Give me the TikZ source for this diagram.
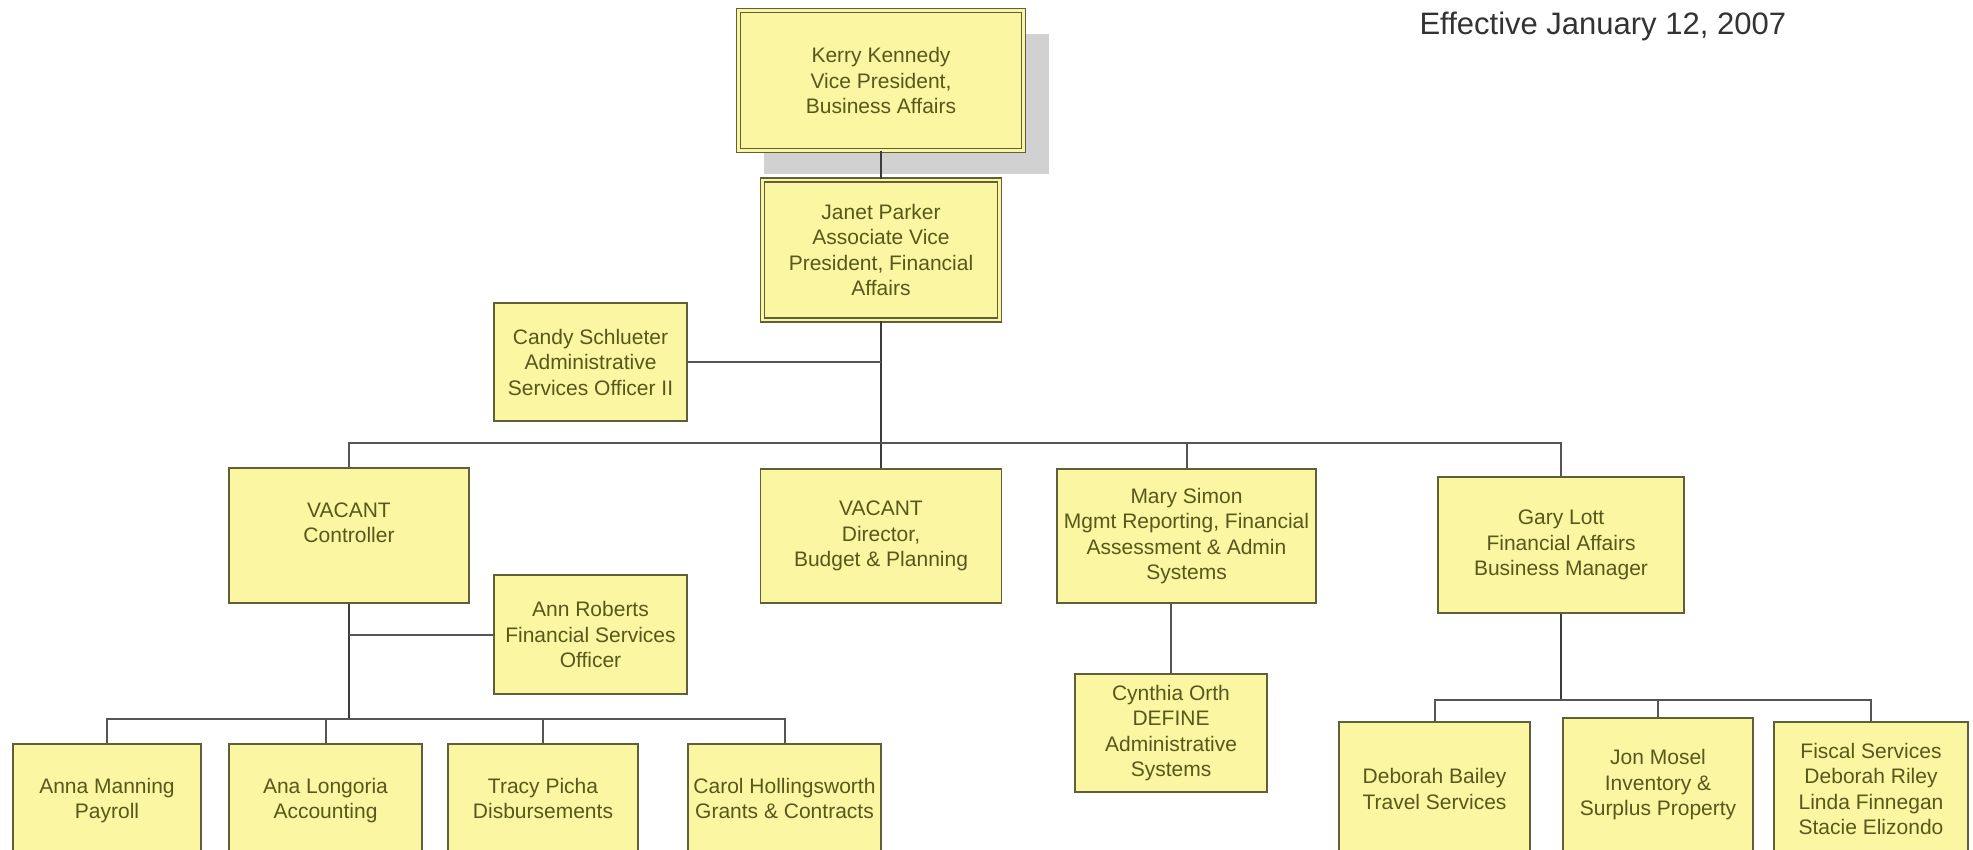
\documentclass[tikz,border=0pt]{standalone}
\usepackage{fontspec}
\setmainfont{Liberation Sans}
\usetikzlibrary{shadows}
\definecolor{boxfill}{RGB}{250,246,162}
\definecolor{boxline}{RGB}{95,95,58}
\definecolor{boxtext}{RGB}{88,88,28}
\definecolor{linkgray}{RGB}{85,85,85}
\definecolor{trunkgray}{RGB}{60,60,60}
\begin{document}
\begin{tikzpicture}[x=1pt,y=-1pt,line join=miter,
	box/.style={draw=boxline,line width=1.8pt,fill=boxfill,text=boxtext,align=center,inner sep=0pt,font=\fontsize{21}{25.5}\selectfont},
	topbox/.style={box,line width=1.3pt,double=boxfill,double distance=2.6pt},
	link/.style={draw=linkgray,line width=2pt},
	trunk/.style={draw=trunkgray,line width=2.8pt}]
	\useasboundingbox (0,0) rectangle (1973,850);
	\clip (0,0) rectangle (1973,850);
	% top of the chart
	\node[topbox,minimum width=285,minimum height=140,drop shadow={shadow xshift=25pt,shadow yshift=-24pt,fill=black!18,opacity=1}] (kerry) at (881,80.5) {Kerry Kennedy\\Vice President,\\Business Affairs};
	\node[topbox,minimum width=237,minimum height=140] (janet) at (881,250) {Janet Parker\\Associate Vice\\President, Financial\\Affairs};
	\node[box,minimum width=193,minimum height=118] (candy) at (590.5,362) {Candy Schlueter\\Administrative\\Services Officer II};
	% second row
	\node[box,minimum width=240,minimum height=135] (ctrl) at (349,535.5) {VACANT\\Controller\\~};
	\node[box,minimum width=193,minimum height=119] (ann) at (590.5,634.5) {Ann Roberts\\Financial Services\\Officer};
	\node[box,minimum width=241,minimum height=134] (budget) at (881,536) {VACANT\\Director,\\Budget \& Planning};
	\node[box,minimum width=259,minimum height=134] (mary) at (1186.5,536) {Mary Simon\\Mgmt Reporting, Financial\\Assessment \& Admin\\Systems};
	\node[box,minimum width=192,minimum height=118] (cynthia) at (1171,733) {Cynthia Orth\\DEFINE\\Administrative\\Systems};
	\node[box,minimum width=246,minimum height=136] (gary) at (1561,545) {Gary Lott\\Financial Affairs\\Business Manager};
	% bottom row
	\node[box,minimum width=188,minimum height=134] (anna) at (107,811) {Anna Manning\\Payroll\\~};
	\node[box,minimum width=193,minimum height=134] (ana) at (325.5,811) {Ana Longoria\\Accounting\\~};
	\node[box,minimum width=190,minimum height=134] (tracy) at (543,811) {Tracy Picha\\Disbursements\\~};
	\node[box,minimum width=193,minimum height=134] (carol) at (784.5,811) {Carol Hollingsworth\\Grants \& Contracts\\~};
	\node[box,minimum width=191,minimum height=134] (deborah) at (1434.5,789) {Deborah Bailey\\Travel Services};
	\node[box,minimum width=190,minimum height=134] (jon) at (1658,785) {Jon Mosel\\Inventory \&\\Surplus Property};
	\node[box,minimum width=194,minimum height=134] (fiscal) at (1871,789) {Fiscal Services\\Deborah Riley\\Linda Finnegan\\Stacie Elizondo};
	\node[anchor=base west,text=black!80,font=\fontsize{31}{38}\selectfont] (effective) at (1416,35) {Effective January 12, 2007};
	\coordinate (hub) at (881,443);
	\coordinate (lefthub) at (349,719);
	\coordinate (righthub) at (1561,700);
	% connectors
	\draw[trunk] (kerry.south) -- (janet.north);
	\draw[trunk] (janet.south) -- (budget.north);
	\draw[link] (ctrl.north) |- (hub) -| (gary.north);
	\draw[link] (mary.north) -- (mary.north |- hub);
	\draw[link] (candy.east) -- (candy.east -| janet.south);
	\draw[trunk] (ctrl.south) -- (lefthub);
	\draw[link] (ann.west) -- (ann.west -| ctrl.south);
	\draw[link] (anna.north) |- (lefthub) -| (carol.north);
	\draw[link] (ana.north) -- (ana.north |- lefthub);
	\draw[link] (tracy.north) -- (tracy.north |- lefthub);
	\draw[link] (cynthia.north) -- (cynthia.north |- mary.south);
	\draw[trunk] (gary.south) -- (righthub);
	\draw[link] (deborah.north) |- (righthub) -| (fiscal.north);
	\draw[link] (jon.north) -- (jon.north |- righthub);
\end{tikzpicture}
\end{document}
